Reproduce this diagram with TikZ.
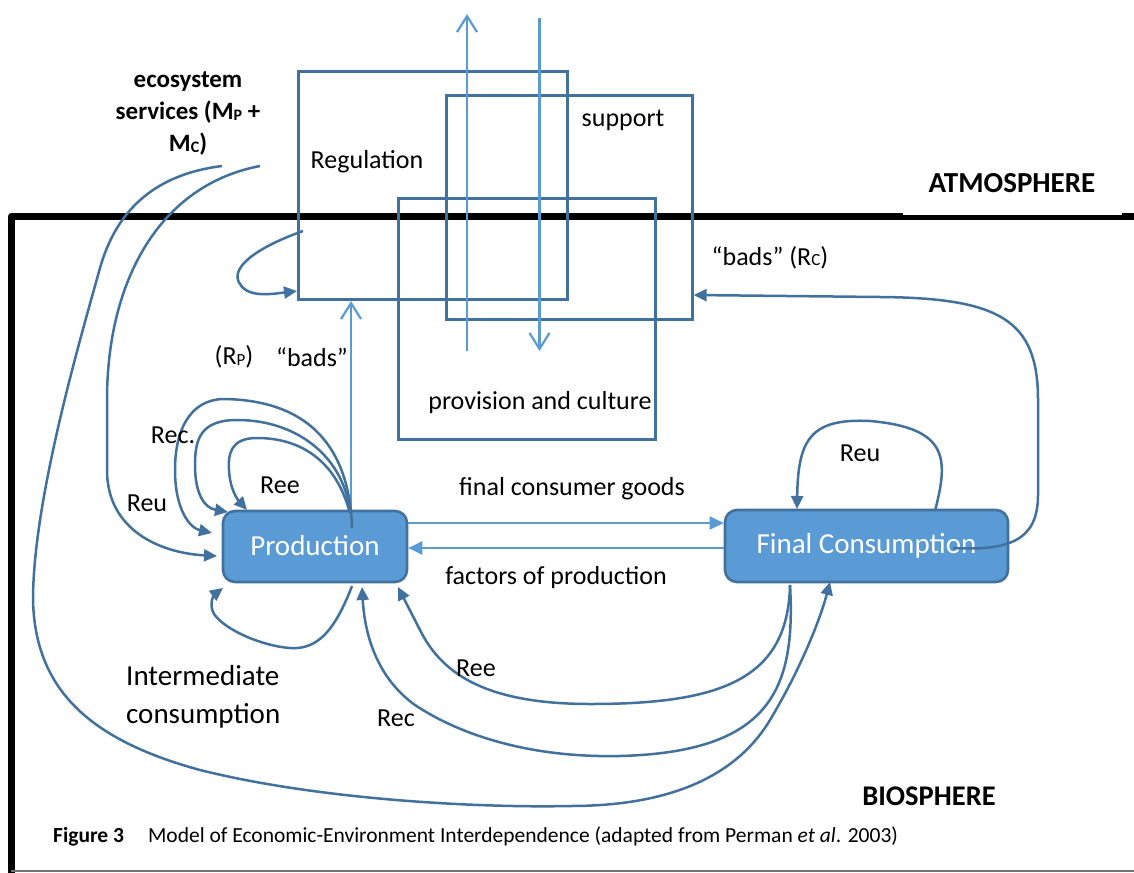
\documentclass[tikz,border=0pt]{standalone}
\usepackage{fontspec}
\setmainfont{Carlito}
\usetikzlibrary{arrows.meta,calc}
\definecolor{dblue}{HTML}{41719C}
\definecolor{lblue}{HTML}{5B9BD5}
\begin{document}
\begin{tikzpicture}[x=1pt,y=-1pt,
  frameline/.style={line width=7pt, line join=round, draw=black},
  ecobox/.style={draw=dblue, line width=2.6pt, inner sep=0pt, anchor=north west},
  sector/.style={draw=dblue, fill=lblue, line width=2.6pt, rounded corners=12pt, text=white, font=\fontsize{29}{34}\selectfont, inner sep=0pt},
  lbl/.style={inner sep=0pt, font=\fontsize{26}{31}\selectfont},
  flow/.style={draw=dblue, line width=2.5pt, -{Triangle[length=13pt,width=12pt]}},
  lightflow/.style={draw=lblue, line width=2.2pt, -{Triangle[length=14pt,width=13pt]}},
  vflow/.style={draw=lblue, line width=2.2pt, -{Straight Barb[length=16pt,width=20pt]}}]
\useasboundingbox (0,0) rectangle (1134,872);
\fill[white] (0,0) rectangle (1134,872);

% frame between atmosphere and biosphere
\coordinate (frBL) at (11.5,885);
\coordinate (frTL) at (11.5,216);
\coordinate (frTR) at (1140,216);
\draw[frameline] (frBL) -- (frTL) -- (frTR);
\coordinate (botL) at (11,871);
\coordinate (botR) at (1134,871);
\draw[black!55, line width=2pt] (botL) -- (botR);

\node[inner sep=0pt, font=\bfseries\fontsize{29}{34}\selectfont, fill=white, minimum width=219pt, minimum height=63pt] (latm) at (1012,183) {ATMOSPHERE};

% ecosystem service boxes
\node[ecobox, minimum width=269pt, minimum height=228pt] (reg) at (297,70) {};
\node[ecobox, minimum width=246pt, minimum height=224pt] (sup) at (445,94) {};
\node[ecobox, minimum width=257pt, minimum height=241pt] (prov) at (397,197) {};

% sectors
\node[sector, minimum width=184pt, minimum height=71pt] (prod) at (315,546.5) {\raisebox{3pt}{Production}};
\node[sector, minimum width=283pt, minimum height=72pt] (cons) at (866.5,546) {Final Consumption};

% vertical light arrows through the boxes
\coordinate (upB) at (467,351);
\coordinate (upT) at (467,14);
\draw[vflow] (upB) -- (upT);
\coordinate (dnT) at (539.5,18);
\coordinate (dnB) at (539.5,351);
\draw[vflow] (dnT) -- (dnB);
\coordinate (rpTop) at (351,301);
\draw[vflow] (rpTop |- prod.north) -- (rpTop);

% flows between sectors
\coordinate (fcgY) at (0,523);
\coordinate (fopY) at (0,548);
\draw[lightflow] (prod.east |- fcgY) -- (cons.west |- fcgY);
\draw[lightflow] (cons.west |- fopY) -- (prod.east |- fopY);

% regulation self loop
\coordinate (rlS) at (303,231);
\coordinate (rlE) at (297,291);
\draw[flow] (rlS) .. controls (250,250) and (230,270) .. (240,284) .. controls (248,298) and (272,294) .. (rlE);

% bads from consumption
\coordinate (rcS) at (953,548);
\coordinate (rcY) at (0,295);
\draw[flow] (rcS) .. controls (1010,551) and (1038,540) .. (1038,495) -- (1038,400) .. controls (1038,320) and (1000,298) .. (880,297) -- (sup.east |- rcY);

% consumption self loop (Reu)
\coordinate (fclS) at (935,511);
\coordinate (fclE) at (797,509);
\draw[flow] (fclS) .. controls (948,460) and (950,428) .. (870,421) .. controls (810,418) and (798,440) .. (fclE);

% production loops
\coordinate (pl1S) at (352,528);
\coordinate (pl1E) at (212,533);
\draw[flow] (pl1S) .. controls (350,460) and (320,400) .. (223,399) .. controls (190,400) and (175,430) .. (175,470) .. controls (175,510) and (190,528) .. (pl1E);
\coordinate (pl2S) at (350,513);
\coordinate (pl2E) at (228,512);
\draw[flow] (pl2S) .. controls (345,460) and (300,420) .. (237,420) .. controls (200,420) and (195,440) .. (195,465) .. controls (195,495) and (205,508) .. (pl2E);
\coordinate (pl3S) at (349,510);
\coordinate (pl3E) at (247,510);
\draw[flow] (pl3S) .. controls (335,460) and (300,438) .. (257,438) .. controls (230,438) and (228,455) .. (229,470) .. controls (230,490) and (238,500) .. (pl3E);

% ecosystem services flows
\coordinate (esA) at (260,166);
\coordinate (esAE) at (217,556);
\draw[flow] (esA) .. controls (160,185) and (107,280) .. (107,400) -- (107,470) .. controls (107,530) and (160,553) .. (esAE);
\coordinate (esB) at (222,166);
\coordinate (esBE) at (830,582);
\draw[flow] (esB) .. controls (150,175) and (115,215) .. (100,268) .. controls (80,340) and (33,500) .. (33,600) .. controls (35,690) and (90,740) .. (200,770) .. controls (320,800) and (480,808) .. (570,806) .. controls (680,806) and (740,770) .. (770,720) .. controls (800,670) and (820,620) .. (esBE);

% consumption back to production
\coordinate (fcB) at (790,585);
\coordinate (reeE) at (398,587);
\coordinate (recE) at (362,587);
\draw[flow] (fcB) .. controls (788,680) and (720,704) .. (590,704) .. controls (480,704) and (440,670) .. (420,630) -- (reeE);
\draw[flow] (fcB) .. controls (796,690) and (770,752) .. (620,756) .. controls (530,758) and (460,735) .. (415,705) .. controls (380,680) and (365,640) .. (recE);

% intermediate consumption
\coordinate (icS) at (352,586);
\coordinate (icE) at (223,588);
\draw[flow] (icS) .. controls (335,630) and (318,650) .. (290,648) .. controls (262,646) and (225,630) .. (214,614) .. controls (208,603) and (215,594) .. (icE);

% labels
\node[lbl] (lreg) at (367,162) {Regulation};
\node[lbl] (lsup) at (623,120) {support};
\node[lbl] (lprov) at (540,403) {provision and culture};
\node[lbl] (lfcg) at (572,489) {final consumer goods};
\node[lbl] (lfop) at (556,578) {factors of production};
\node[lbl] (lbadsc) at (770,258) {“bads” (R{\fontsize{17}{17}\selectfont C})};
\node[lbl] (lrp) at (234,357) {(R\raisebox{-1pt}{\fontsize{17}{17}\selectfont P})};
\node[lbl] (lbadsp) at (312,357) {“bads”};
\node[lbl] (lrec1) at (173,435) {Rec.};
\node[lbl] (lree1) at (280,485) {Ree};
\node[lbl] (lreu1) at (147,503) {Reu};
\node[lbl] (lreu2) at (860,453) {Reu};
\node[lbl] (lree2) at (476,668) {Ree};
\node[lbl] (lrec2) at (396,718) {Rec};
\node[inner sep=0pt, anchor=west, font=\fontsize{29}{38}\selectfont, align=left] (linter) at (126,697) {Intermediate\\consumption};
\node[inner sep=0pt, font=\bfseries\fontsize{25}{32}\selectfont, align=center] (leco) at (188,114) {ecosystem\\services (M\raisebox{-1pt}{\fontsize{16}{16}\selectfont P} +\\M\raisebox{-1pt}{\fontsize{16}{16}\selectfont C})};
\node[inner sep=0pt, font=\bfseries\fontsize{28.5}{34}\selectfont] (lbio) at (929,796) {BIOSPHERE};
\node[inner sep=0pt, anchor=west, font=\fontsize{21.5}{25}\selectfont] (cap) at (53,836) {\textbf{Figure 3}\hspace{24pt}Model of Economic-Environment Interdependence (adapted from Perman \textit{et al}. 2003)};
\end{tikzpicture}
\end{document}
